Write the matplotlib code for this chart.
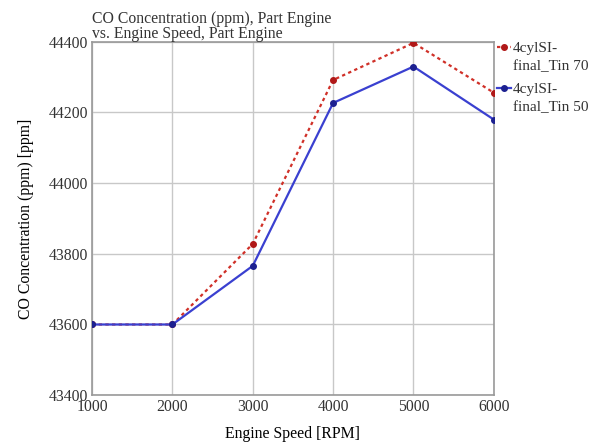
import matplotlib
matplotlib.use("Agg")
import matplotlib.pyplot as plt

speed = [1000, 2000, 3000, 4000, 5000, 6000]
co_tin70 = [43600, 43600, 43828, 44292, 44397, 44256]
co_tin50 = [43600, 43600, 43766, 44227, 44330, 44180]
labels = ["4cylSI-\nfinal_Tin 70", "4cylSI-\nfinal_Tin 50"]

red, red_dark = "#D03028", "#B01818"
blue, blue_dark = "#3A40D0", "#1C2090"

plt.rcParams.update({"font.family": "Liberation Serif", "font.size": 11.3,
                     "text.color": "#333333", "xtick.color": "#333333",
                     "ytick.color": "#333333"})
fig = plt.figure(figsize=(5.9, 4.45), dpi=100)
ax = fig.add_axes([0.156, 0.112, 0.681, 0.794])

ax.plot(speed, co_tin70, color=red, lw=1.6, ls=(0, (1.5, 1.5)),
        marker="o", ms=4, mfc=red_dark, mec=red_dark, zorder=3)
ax.plot(speed, co_tin50, color=blue, lw=1.6,
        marker="o", ms=4, mfc=blue_dark, mec=blue_dark, zorder=4)

ax.set_xlim(1000, 6000)
ax.set_ylim(43400, 44400)
ax.set_xticks(speed)
ax.set_yticks([43400, 43600, 43800, 44000, 44200, 44400])
ax.grid(color="#C8C8C8", lw=1.0)
ax.set_axisbelow(True)
for sp in ax.spines.values():
    sp.set_color("#999999"); sp.set_linewidth(1.2)
ax.tick_params(length=0, pad=3)
ax.set_xlabel("Engine Speed [RPM]", labelpad=8)
ax.set_ylabel("CO Concentration (ppm) [ppm]", labelpad=10)
ax.set_title("CO Concentration (ppm), Part Engine\nvs. Engine Speed, Part Engine",
             loc="left", fontsize=11.3, linespacing=0.85, pad=3)

# legend outside right, marker aligned with first text line (as in the original)
for (lab, c, cd, ls), y in zip([(labels[0], red, red_dark, (0, (1.5, 1.5))),
                                (labels[1], blue, blue_dark, "-")], [0.986, 0.870]):
    ax.plot([1.008, 1.042], [y, y], transform=ax.transAxes, clip_on=False,
            color=c, lw=1.6, ls=ls)
    ax.plot([1.025], [y], transform=ax.transAxes, clip_on=False,
            marker="o", ms=4, color=cd)
    ax.text(1.048, y + 0.014, lab, transform=ax.transAxes, va="top", ha="left",
            fontsize=11, linespacing=1.55)

fig.savefig("out.png", dpi=100)
